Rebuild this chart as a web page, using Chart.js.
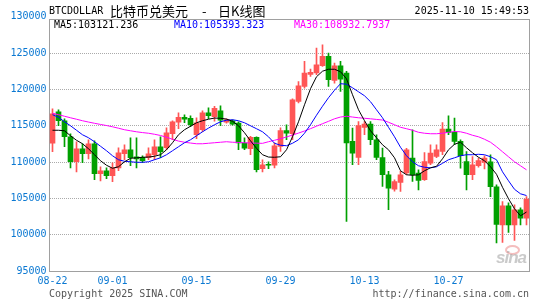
<!DOCTYPE html>
<html>
<head>
<meta charset="utf-8">
<script src="https://cdn.jsdelivr.net/npm/chart.js@4.4.1/dist/chart.umd.min.js"></script>
<style>
html,body{margin:0;padding:0;background:#fff;}
#wrap{position:relative;width:545px;height:300px;overflow:hidden;background:#fff;}
#c{position:absolute;left:0;top:0;}
.t{position:absolute;white-space:pre;font-family:"DejaVu Sans Mono",monospace;font-size:10px;line-height:12px;}
.cjk{position:absolute;white-space:pre;font-family:"Noto Sans CJK SC",sans-serif;font-size:13px;line-height:15px;color:#000;}
</style>
</head>
<body>
<div id="wrap">
<canvas id="c" width="545" height="300"></canvas>
<div class="t" style="left:49px;top:5px;color:#000;">BTCDOLLAR</div>
<div class="cjk" style="left:110px;top:3px;">比特币兑美元</div>
<div class="cjk" style="left:202px;top:3px;">-</div>
<div class="cjk" style="left:218px;top:3px;">日K线图</div>
<div class="t" style="right:16px;top:5px;color:#000;">2025-11-10 15:49:53</div>
<div class="t" style="left:54px;top:19px;color:#000;">MA5:103121.236</div>
<div class="t" style="left:174px;top:19px;color:#0000ff;">MA10:105393.323</div>
<div class="t" style="left:294px;top:19px;color:#ff00ff;">MA30:108932.7937</div>
<div class="t" style="left:49px;top:288px;color:#555;">Copyright 2025 SINA.COM</div>
<div class="t" style="right:16px;top:288px;color:#555;">http://finance.sina.com.cn</div>
<div style="position:absolute;left:505px;top:245px;width:11px;height:6px;border:2px solid rgba(230,110,110,0.45);border-radius:50%;"></div>
<div style="position:absolute;left:496px;top:249px;font-family:'Liberation Sans',sans-serif;font-style:italic;font-weight:bold;font-size:17px;line-height:18px;letter-spacing:-1px;color:rgba(150,150,150,0.5);">sina</div>
</div>
<script>
const dates = [
'08-22','08-23','08-24','08-25','08-26','08-27','08-28','08-29','08-30','08-31',
'09-01','09-02','09-03','09-04','09-05','09-06','09-07','09-08','09-09','09-10',
'09-11','09-12','09-13','09-14','09-15','09-16','09-17','09-18','09-19','09-20',
'09-21','09-22','09-23','09-24','09-25','09-26','09-27','09-28','09-29','09-30',
'10-01','10-02','10-03','10-04','10-05','10-06','10-07','10-08','10-09','10-10',
'10-11','10-12','10-13','10-14','10-15','10-16','10-17','10-18','10-19','10-20',
'10-21','10-22','10-23','10-24','10-25','10-26','10-27','10-28','10-29','10-30',
'10-31','11-01','11-02','11-03','11-04','11-05','11-06','11-07','11-08','11-09'];

const tickDates = ['08-22','09-01','09-15','09-29','10-13','10-27'];
const yTicks = [95000,100000,105000,110000,115000,120000,125000,130000];

const open = [
112590,116930,115690,113480,110040,111830,111140,112520,108390,108800,
108110,109210,111140,111690,110730,110660,110590,111010,112110,111970,
113900,115480,116170,116030,113760,114450,116790,116240,117070,115510,
115690,115370,112620,111830,113390,109080,109700,109560,112150,114350,
113900,118350,120410,122070,122260,123260,124550,121240,123260,122260,
112840,110630,114770,115230,113070,110630,108250,106280,107190,108490,
110550,108490,107560,109860,110770,111460,114550,114080,112840,110080,
108250,109490,109950,110040,106600,101360,103980,101360,103430,102290];

const close = [
116650,115690,113480,110040,111830,111140,112520,108390,108800,108110,
109210,111280,111690,110590,110450,110180,111140,112110,111420,114040,
115550,116170,115900,115140,115410,116790,116380,117410,115760,115830,
115230,112620,111930,113390,108940,109630,109560,112250,114350,113990,
118580,120510,122260,122340,123400,124550,121340,123260,121430,112620,
111240,115040,115230,113070,110630,108250,106420,107330,108250,111690,
108250,107470,110080,111240,111690,114550,114080,112840,110870,108250,
109630,110220,110550,106600,101430,103980,101360,103430,102290,104900];

const high = [
117340,117200,115960,113900,112800,112520,113070,112930,109350,109210,
109900,111970,112380,113350,113350,110870,111970,113070,113480,114720,
115690,116790,116520,116380,116100,117070,117480,117690,117750,115960,
115830,115550,113350,113550,113480,110320,110040,112660,114720,115140,
118720,121100,123860,122810,125700,126160,125010,123640,123860,122480,
114680,115590,115590,115590,113760,111930,108710,107560,108710,111900,
114450,108940,111320,112380,112380,115450,116380,116060,113070,111460,
110770,110550,110870,111010,106870,104570,104390,104120,103710,105260];

const low = [
111420,115000,112110,109210,108660,109900,110450,107560,107420,107700,
107290,108800,110320,109490,109210,109900,110320,110320,110590,111690,
113070,114590,115410,114860,113210,114170,115960,115620,115000,115340,
115070,111690,111690,111010,108660,108660,109080,109210,111460,113070,
113070,118130,120190,121790,122020,123170,120410,120880,119720,101820,
109630,109630,113760,112380,110320,106640,103430,105980,105950,108250,
107330,106180,107470,109630,110590,111010,113760,112380,109170,106180,
107560,109310,109040,105220,98880,98930,100300,99200,101360,101360];

const ma5 = [
114380,114380,114310,113620,113000,112520,111830,111010,110180,109560,
109150,109350,110040,110520,110590,110660,110690,110800,111010,111690,
112660,113760,114450,114930,115410,115690,115900,116060,116030,115920,
115620,115000,114040,112930,111900,111010,110690,110660,110730,111690,
113480,115550,117890,120100,121750,122510,122780,122780,122440,121470,
119270,117200,115690,114310,113350,112380,111690,110590,108800,108250,
108180,108250,108800,109210,109420,110450,111690,112450,112730,111970,
111280,110660,110180,109350,108320,106530,104950,103570,102600,103120];

const ma10 = [
116520,116170,115550,115000,114380,113760,113350,112800,112180,111560,
110870,110320,110110,110040,109970,109970,110040,110320,110590,111010,
111560,112110,112660,113070,113620,114170,114680,115140,115550,115760,
115830,115690,115410,115000,114590,114170,113480,112590,112310,112250,
112590,113070,113970,115140,116450,117690,118860,119890,120790,120720,
120230,119680,119130,118310,117200,116100,114790,113480,112040,110870,
110040,109490,109280,109210,109350,109830,110320,110590,110870,111010,
111010,111070,111010,110730,110320,108660,107420,106250,105630,105390];

const ma30 = [
116720,116520,116310,116100,115900,115690,115510,115340,115180,115030,
114860,114660,114450,114310,114170,114060,113970,113830,113660,113420,
113140,112890,112730,112620,112520,112520,112590,112660,112730,112800,
112730,112700,112660,112630,112600,112580,112800,113000,113210,113460,
113720,113990,114280,114600,114940,115280,115610,115960,116200,116310,
116200,116100,116030,115960,115870,115790,115480,115140,114790,114590,
114380,114100,113970,113900,113900,113970,114100,114210,114170,113970,
113690,113480,113140,112730,112110,111420,110730,110040,109490,108930];

const RED = '#ff5555';
const GREEN = '#00a000';
const TICK_BLUE = '#0a78d2';
const GRID = '#aaaaaa';
const candleColor = (ctx) => (close[ctx.dataIndex] >= open[ctx.dataIndex] ? RED : GREEN);

const bodies = dates.map((d, i) => [open[i], close[i]]);
const wicks = dates.map((d, i) => [low[i], high[i]]);

const boxPlugin = {
  id: 'box',
  beforeDatasetsDraw(chart) {
    const a = chart.chartArea, ctx = chart.ctx;
    const x0 = Math.floor(a.left) + 0.5, x1 = Math.floor(a.right) + 0.5;
    const y0 = Math.floor(a.top) + 0.5, y1 = Math.floor(a.bottom) + 0.5;
    ctx.save();
    ctx.strokeStyle = '#a0a0a0';
    ctx.lineWidth = 1;
    ctx.setLineDash([]);
    ctx.strokeRect(x0, y0, x1 - x0, y1 - y0);
    ctx.restore();
  }
};

const monoFont = { family: 'DejaVu Sans Mono', size: 10 };

new Chart(document.getElementById('c'), {
  type: 'bar',
  data: {
    labels: dates,
    datasets: [
      { type: 'line', label: 'MA5', data: ma5, borderColor: '#000000', borderWidth: 1, pointRadius: 0, fill: false, tension: 0, order: 0 },
      { type: 'line', label: 'MA10', data: ma10, borderColor: '#0000ff', borderWidth: 1, pointRadius: 0, fill: false, tension: 0, order: 1 },
      { type: 'line', label: 'MA30', data: ma30, borderColor: '#ff00ff', borderWidth: 1, pointRadius: 0, fill: false, tension: 0, order: 2 },
      { label: 'body', data: bodies, backgroundColor: candleColor, borderWidth: 0, barThickness: 5, minBarLength: 1, grouped: false, order: 3 },
      { label: 'wick', data: wicks, backgroundColor: candleColor, borderWidth: 0, barThickness: 1, grouped: false, order: 4 }
    ]
  },
  options: {
    responsive: false,
    animation: false,
    devicePixelRatio: 1,
    layout: { padding: { left: 0, right: 15.5, top: 19, bottom: 0 } },
    plugins: { legend: { display: false }, tooltip: { enabled: false } },
    scales: {
      x: {
        offset: true,
        grid: {
          offset: false,
          drawTicks: false,
          lineWidth: 1,
          color: (ctx) => (ctx.index > 0 && tickDates.includes(dates[ctx.index])) ? GRID : 'rgba(0,0,0,0)'
        },
        border: { display: false, dash: [1, 1] },
        ticks: {
          autoSkip: false, maxRotation: 0, minRotation: 0, padding: 4,
          color: TICK_BLUE, font: monoFont,
          callback: (v, i) => (tickDates.includes(dates[i]) ? dates[i] : null)
        },
        afterFit: (s) => { s.height = 29; }
      },
      y: {
        min: 95000,
        max: 129700,
        afterBuildTicks: (s) => { s.ticks = yTicks.map((v) => ({ value: v })); },
        grid: {
          drawTicks: false,
          lineWidth: 1,
          color: (ctx) => (ctx.tick && ctx.tick.value > 95000 && ctx.tick.value < 129700) ? GRID : 'rgba(0,0,0,0)'
        },
        border: { display: false, dash: [1, 1] },
        ticks: {
          autoSkip: false, padding: 3, color: TICK_BLUE, font: monoFont,
          callback: (v) => String(v)
        },
        afterFit: (s) => { s.width = 49.5; }
      }
    }
  },
  plugins: [boxPlugin]
});
</script>
</body>
</html>
